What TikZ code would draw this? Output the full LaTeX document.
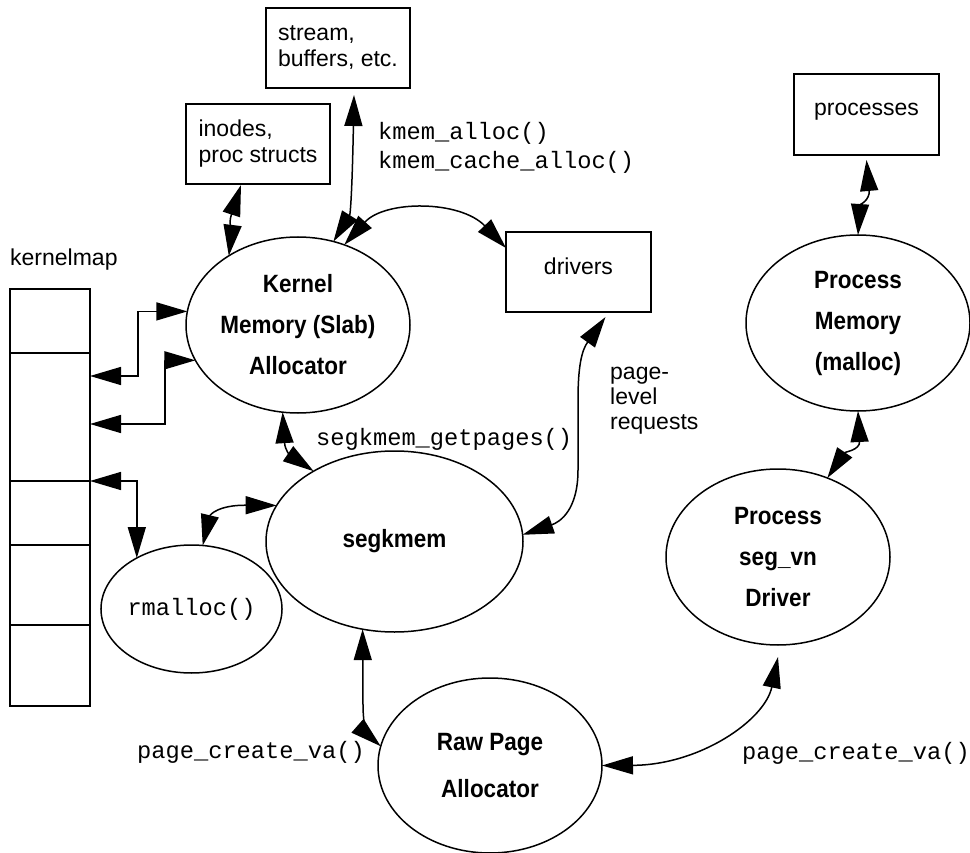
\documentclass[tikz,border=0pt]{standalone}
\usepackage{fontspec}
\setmainfont{Liberation Sans}
\setsansfont{Liberation Sans}
\setmonofont{Liberation Mono}
\newfontfamily\narrowbold{Liberation Sans Bold}[FakeStretch=0.9]
\usetikzlibrary{arrows.meta,shapes.geometric}
\begin{document}
\begin{tikzpicture}[x=1pt,y=-1pt,
  box/.style={draw, line width=1.8pt, rectangle, inner sep=0pt, outer sep=0pt},
  oval/.style={draw, line width=1.5pt, ellipse, inner sep=0pt, outer sep=0pt, align=center, font=\fontsize{25}{41}\narrowbold},
  reg/.style={font=\fontsize{23}{26}\selectfont},
  mono/.style={font=\fontsize{23.7}{29}\selectfont\ttfamily},
  lbl/.style={inner sep=0pt, anchor=west},
  dbl/.style={line width=1.5pt, {Triangle[length=31pt,width=18pt]}-{Triangle[length=31pt,width=18pt]}},
  cell/.style={draw, line width=1.8pt, rectangle, minimum width=80pt, inner sep=0pt, outer sep=0pt}
]
\useasboundingbox (0,0) rectangle (970,853);

% boxes
\node[box, minimum width=144pt, minimum height=80pt, reg, align=left] (stream) at (338,48) {stream,\\buffers, etc.};
\node[box, minimum width=144pt, minimum height=80pt, reg, align=left] (inodes) at (258,144) {inodes,\\proc structs};
\node[box, minimum width=145pt, minimum height=80pt, reg, text depth=12pt] (drivers) at (578.5,272) {drivers};
\node[box, minimum width=145pt, minimum height=81pt, reg, text depth=10pt] (proc) at (866.5,114.5) {processes};

% kernelmap column
\node[lbl, reg] (kmlabel) at (10,260) {kernelmap};
\node[cell, minimum height=64pt] (c1) at (50,321) {};
\node[cell, minimum height=128pt] (c2) at (50,417) {};
\node[cell, minimum height=64pt] (c3) at (50,513) {};
\node[cell, minimum height=80pt] (c4) at (50,585) {};
\node[cell, minimum height=81pt] (c5) at (50,665.5) {};

% ellipses
\node[oval, minimum width=224pt, minimum height=176pt] (km) at (298,325) {Kernel\\Memory (Slab)\\Allocator};
\node[oval, minimum width=224pt, minimum height=176pt] (pm) at (858,323) {Process\\Memory\\(malloc)};
\node[oval, minimum width=224pt, minimum height=176pt] (segvn) at (778,557) {Process\\seg\_vn\\Driver};
\node[oval, minimum width=257pt, minimum height=181pt] (seg) at (394.5,541.5) {segkmem};
\node[oval, minimum width=171pt, minimum height=128pt, font=\fontsize{23.7}{29}\selectfont\ttfamily\mdseries] (rm) at (191.5,609) {rmalloc()};
\node[oval, minimum width=224pt, minimum height=175pt, font=\fontsize{25}{47}\narrowbold] (raw) at (490,765.5) {Raw Page\\Allocator};

% labels
\node[lbl, mono, align=left] (kmemlbl) at (378,147.5) {kmem\_alloc()\\kmem\_cache\_alloc()};
\node[lbl, mono] (getp) at (316,439) {segkmem\_getpages()};
\node[lbl, align=left, font=\fontsize{23}{25}\selectfont] (plr) at (610,401) {page-\\level\\requests};
\node[lbl, mono] (pcv1) at (137,752) {page\_create\_va()};
\node[lbl, mono] (pcv2) at (742,753) {page\_create\_va()};

% connectors
\draw[dbl] ([xshift=-17pt,yshift=-1pt]inodes.south) .. controls (228,225) and (232,230) .. (km.135);
\draw[dbl] ([xshift=16pt,yshift=-7pt]stream.south) .. controls (352,200) and (350,215) .. (km.67);
\draw[dbl] (km.60) .. controls (385,200) and (460,200) .. ([yshift=-16pt]drivers.north west);
\draw[dbl] ([yshift=41pt]c2.east) -- ++(48,0) |- (km.173);
\draw[dbl] ([yshift=-7pt]c2.east) -- ++(75,0) |- (km.199);
\draw[dbl] (c3.north east) -| (rm.137);
\draw[dbl] (km.260) .. controls (285,450) and (290,455) .. (seg.139);
\draw[dbl] (rm.80) .. controls (210,515) and (218,505) .. (seg.163);
\draw[dbl] ([xshift=27pt,yshift=-5pt]drivers.south) .. controls (582,350) and (578,365) .. (578,400) -- (578,470) .. controls (578,510) and (560,522) .. (seg.3);
\draw[dbl] (seg.250) -- (363,705) .. controls (363,725) and (368,735) .. (raw.170);
\draw[dbl] (raw.east) .. controls (700,765) and (765,720) .. ([yshift=-12pt]segvn.south);
\draw[dbl] (pm.south) .. controls (860,450) and (845,452) .. (segvn.58);
\draw[dbl] ([yshift=-5pt]proc.south) .. controls (870,200) and (860,205) .. (pm.north);
\end{tikzpicture}
\end{document}
